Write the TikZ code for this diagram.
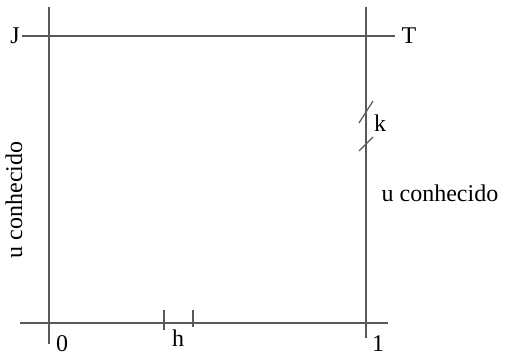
\documentclass[tikz,border=0pt]{standalone}
\usepackage{fontspec}
\setmainfont{Liberation Serif}
\begin{document}
\begin{tikzpicture}[x=0.5pt,y=-0.5pt,
  ln/.style={draw=black!65,line width=0.6pt},
  lbl/.style={inner sep=0pt,font=\fontsize{12}{14}\selectfont}]
\useasboundingbox (0,0) rectangle (505,358);
% axes
\coordinate (lt) at (49,7); \coordinate (lb) at (49,344);
\coordinate (rt) at (366,7); \coordinate (rb) at (366,338);
\coordinate (bl) at (20,323); \coordinate (br) at (388,323);
\coordinate (tl) at (22,36); \coordinate (tr) at (395,36);
\draw[ln] (lt) -- (lb);
\draw[ln] (rt) -- (rb);
\draw[ln] (bl) -- (br);
\draw[ln] (tl) -- (tr);
% h ticks
\coordinate (h1a) at (164,310); \coordinate (h1b) at (164,330);
\coordinate (h2a) at (193,310); \coordinate (h2b) at (193,327);
\draw[ln] (h1a) -- (h1b);
\draw[ln] (h2a) -- (h2b);
% k ticks
\coordinate (k1a) at (359,123); \coordinate (k1b) at (373,101);
\coordinate (k2a) at (359,151); \coordinate (k2b) at (373,137);
\draw[ln] (k1a) -- (k1b);
\draw[ln] (k2a) -- (k2b);
% labels
\node[lbl] (J) at (15,36) {J};
\node[lbl] (T) at (409,36) {T};
\node[lbl] (k) at (380,123) {k};
\node[lbl] (h) at (178,338) {h};
\node[lbl] (zero) at (62,344) {0};
\node[lbl] (one) at (378,344) {1};
\node[lbl] (ur) at (440,193) {u conhecido};
\node[lbl,rotate=90] (ul) at (14,200) {u conhecido};
\end{tikzpicture}
\end{document}
